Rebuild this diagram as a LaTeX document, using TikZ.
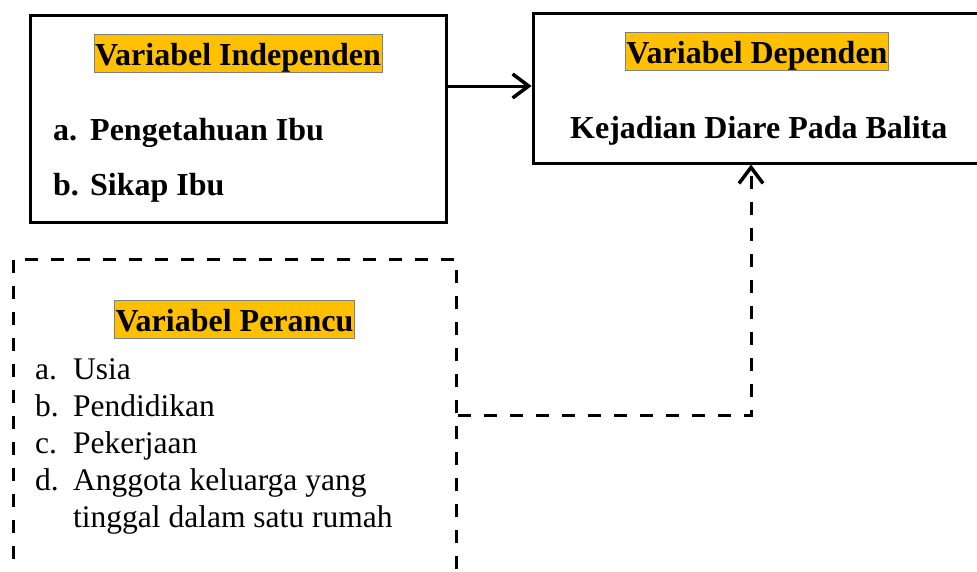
\documentclass[tikz,border=0pt]{standalone}
\usepackage{fontspec}
\setmainfont{Liberation Serif}
\usetikzlibrary{arrows.meta}
\definecolor{hlorange}{HTML}{FFC000}
\begin{document}
\begin{tikzpicture}[x=1pt,y=-1pt,
  box/.style={draw,line width=3pt,rectangle,inner sep=0pt},
  hl/.style={fill=hlorange,draw=gray,line width=0.6pt,inner xsep=1pt,inner ysep=0.5pt,text height=30pt,text depth=7pt,anchor=base,font=\bfseries\fontsize{32}{38}\selectfont},
  bt/.style={anchor=base west,inner sep=0pt,font=\bfseries\fontsize{32}{38}\selectfont},
  rt/.style={anchor=base west,inner sep=0pt,font=\fontsize{31.5}{38}\selectfont},
  dashline/.style={line width=3pt,dash pattern=on 13pt off 13pt},
  tip/.style={-{Straight Barb[length=16pt,width=24pt,line width=3.5pt]}}]
\clip (0,0) rectangle (977,571);
\fill[white] (0,0) rectangle (977,571);
% boxes
\node[box,minimum width=416pt,minimum height=207pt] (ind) at (238,118.5) {};
\node[box,minimum width=477pt,minimum height=150pt] (dep) at (771.5,88) {};
\node[box,dashline,minimum width=443pt,minimum height=361pt] (per) at (234.5,439.5) {};
% titles
\node[hl] (tind) at (238,65) {Variabel Independen};
\node[hl] (tdep) at (757,63) {Variabel Dependen};
\node[hl] (tper) at (234.5,331) {Variabel Perancu};
% independent items
\node[bt] (ia) at (53,140) {a.};
\node[bt] (iat) at (90,140) {Pengetahuan Ibu};
\node[bt] (ib) at (53,195) {b.};
\node[bt] (ibt) at (90,195) {Sikap Ibu};
% dependent text
\node[bt] (dt) at (570,138) {Kejadian Diare Pada Balita};
% confounder items
\node[rt] (pa) at (35,379) {a.};
\node[rt] (pat) at (73,379) {Usia};
\node[rt] (pb) at (35,416) {b.};
\node[rt] (pbt) at (73,416) {Pendidikan};
\node[rt] (pc) at (35,453) {c.};
\node[rt] (pct) at (73,453) {Pekerjaan};
\node[rt] (pd) at (35,490) {d.};
\node[rt] (pdt) at (73,490) {Anggota keluarga yang};
\node[rt] (pdt2) at (73,527) {tinggal dalam satu rumah};
% connectors
\coordinate (ay) at (0,86);
\draw[line width=3pt,tip] (ind.east |- ay) -- (dep.west |- ay);
\coordinate (bend) at (751,415);
\draw[dashline,tip] (per.east |- bend) -- (bend) -- (bend |- dep.south);
\end{tikzpicture}
\end{document}
